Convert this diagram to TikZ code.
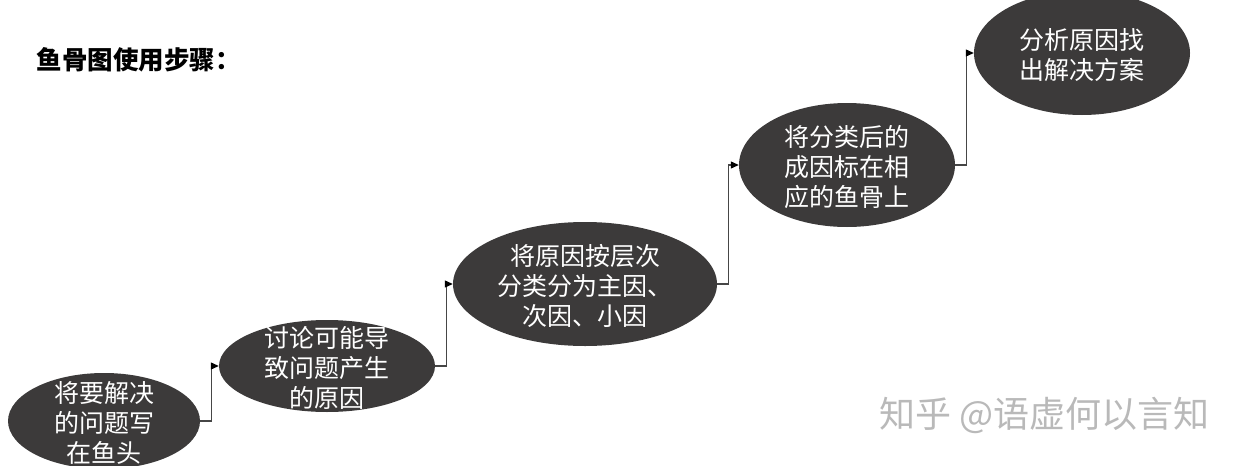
\documentclass[tikz,border=0pt]{standalone}
\usepackage{fontspec}
\newfontfamily\cjk{Noto Sans CJK SC}
\usetikzlibrary{arrows.meta,shapes.geometric}
\definecolor{bonecol}{RGB}{60,58,58}
\definecolor{linkcol}{RGB}{70,70,70}
\definecolor{markcol}{RGB}{185,185,185}

\begin{document}
\begin{tikzpicture}[x=1pt,y=-1pt,>={Triangle[length=8pt,width=7pt,color=black]},
  stepbox/.style={ellipse,fill=bonecol,inner sep=0pt},
  steptext/.style={text=white,align=center,yshift=-2pt,font=\cjk\fontsize{25}{30}\selectfont},
  link/.style={->,draw=linkcol,line width=1.1pt}]
\useasboundingbox (0,0) rectangle (1251,466);
\node[anchor=west,font=\cjk\bfseries\fontsize{25.5}{30}\selectfont] (title) at (33,60) {鱼骨图使用步骤：};
% the five steps, lower left to upper right
\node[stepbox,minimum width=192,minimum height=96] (s1) at (104,421) {};
\node[stepbox,minimum width=216,minimum height=92] (s2) at (327,366) {};
\node[stepbox,minimum width=264,minimum height=124] (s3) at (585,284) {};
\node[stepbox,minimum width=216,minimum height=124] (s4) at (847,165) {};
\node[stepbox,minimum width=216,minimum height=124] (s5) at (1082,53) {};
\node[steptext] (t1) at (s1) {将要解决\\的问题写\\在鱼头};
\node[steptext] (t2) at (s2) {讨论可能导\\致问题产生\\的原因};
\node[steptext] (t3) at (s3) {将原因按层次\\分类分为主因、\\次因、小因};
\node[steptext] (t4) at (s4) {将分类后的\\成因标在相\\应的鱼骨上};
\node[steptext] (t5) at (s5) {分析原因找\\出解决方案};
\draw[link] (s1.east) -- ++(11,0) |- (s2.west);
\draw[link] (s2.east) -- ++(11,0) |- (s3.west);
\draw[link] (s3.east) -- ++(11,0) |- (s4.west);
\draw[link] (s4.east) -- ++(11,0) |- (s5.west);
\node[anchor=west,text=markcol,font=\cjk\fontsize{36}{40}\selectfont] (mark) at (876,415) {知乎 @语虚何以言知};
\end{tikzpicture}
\end{document}
